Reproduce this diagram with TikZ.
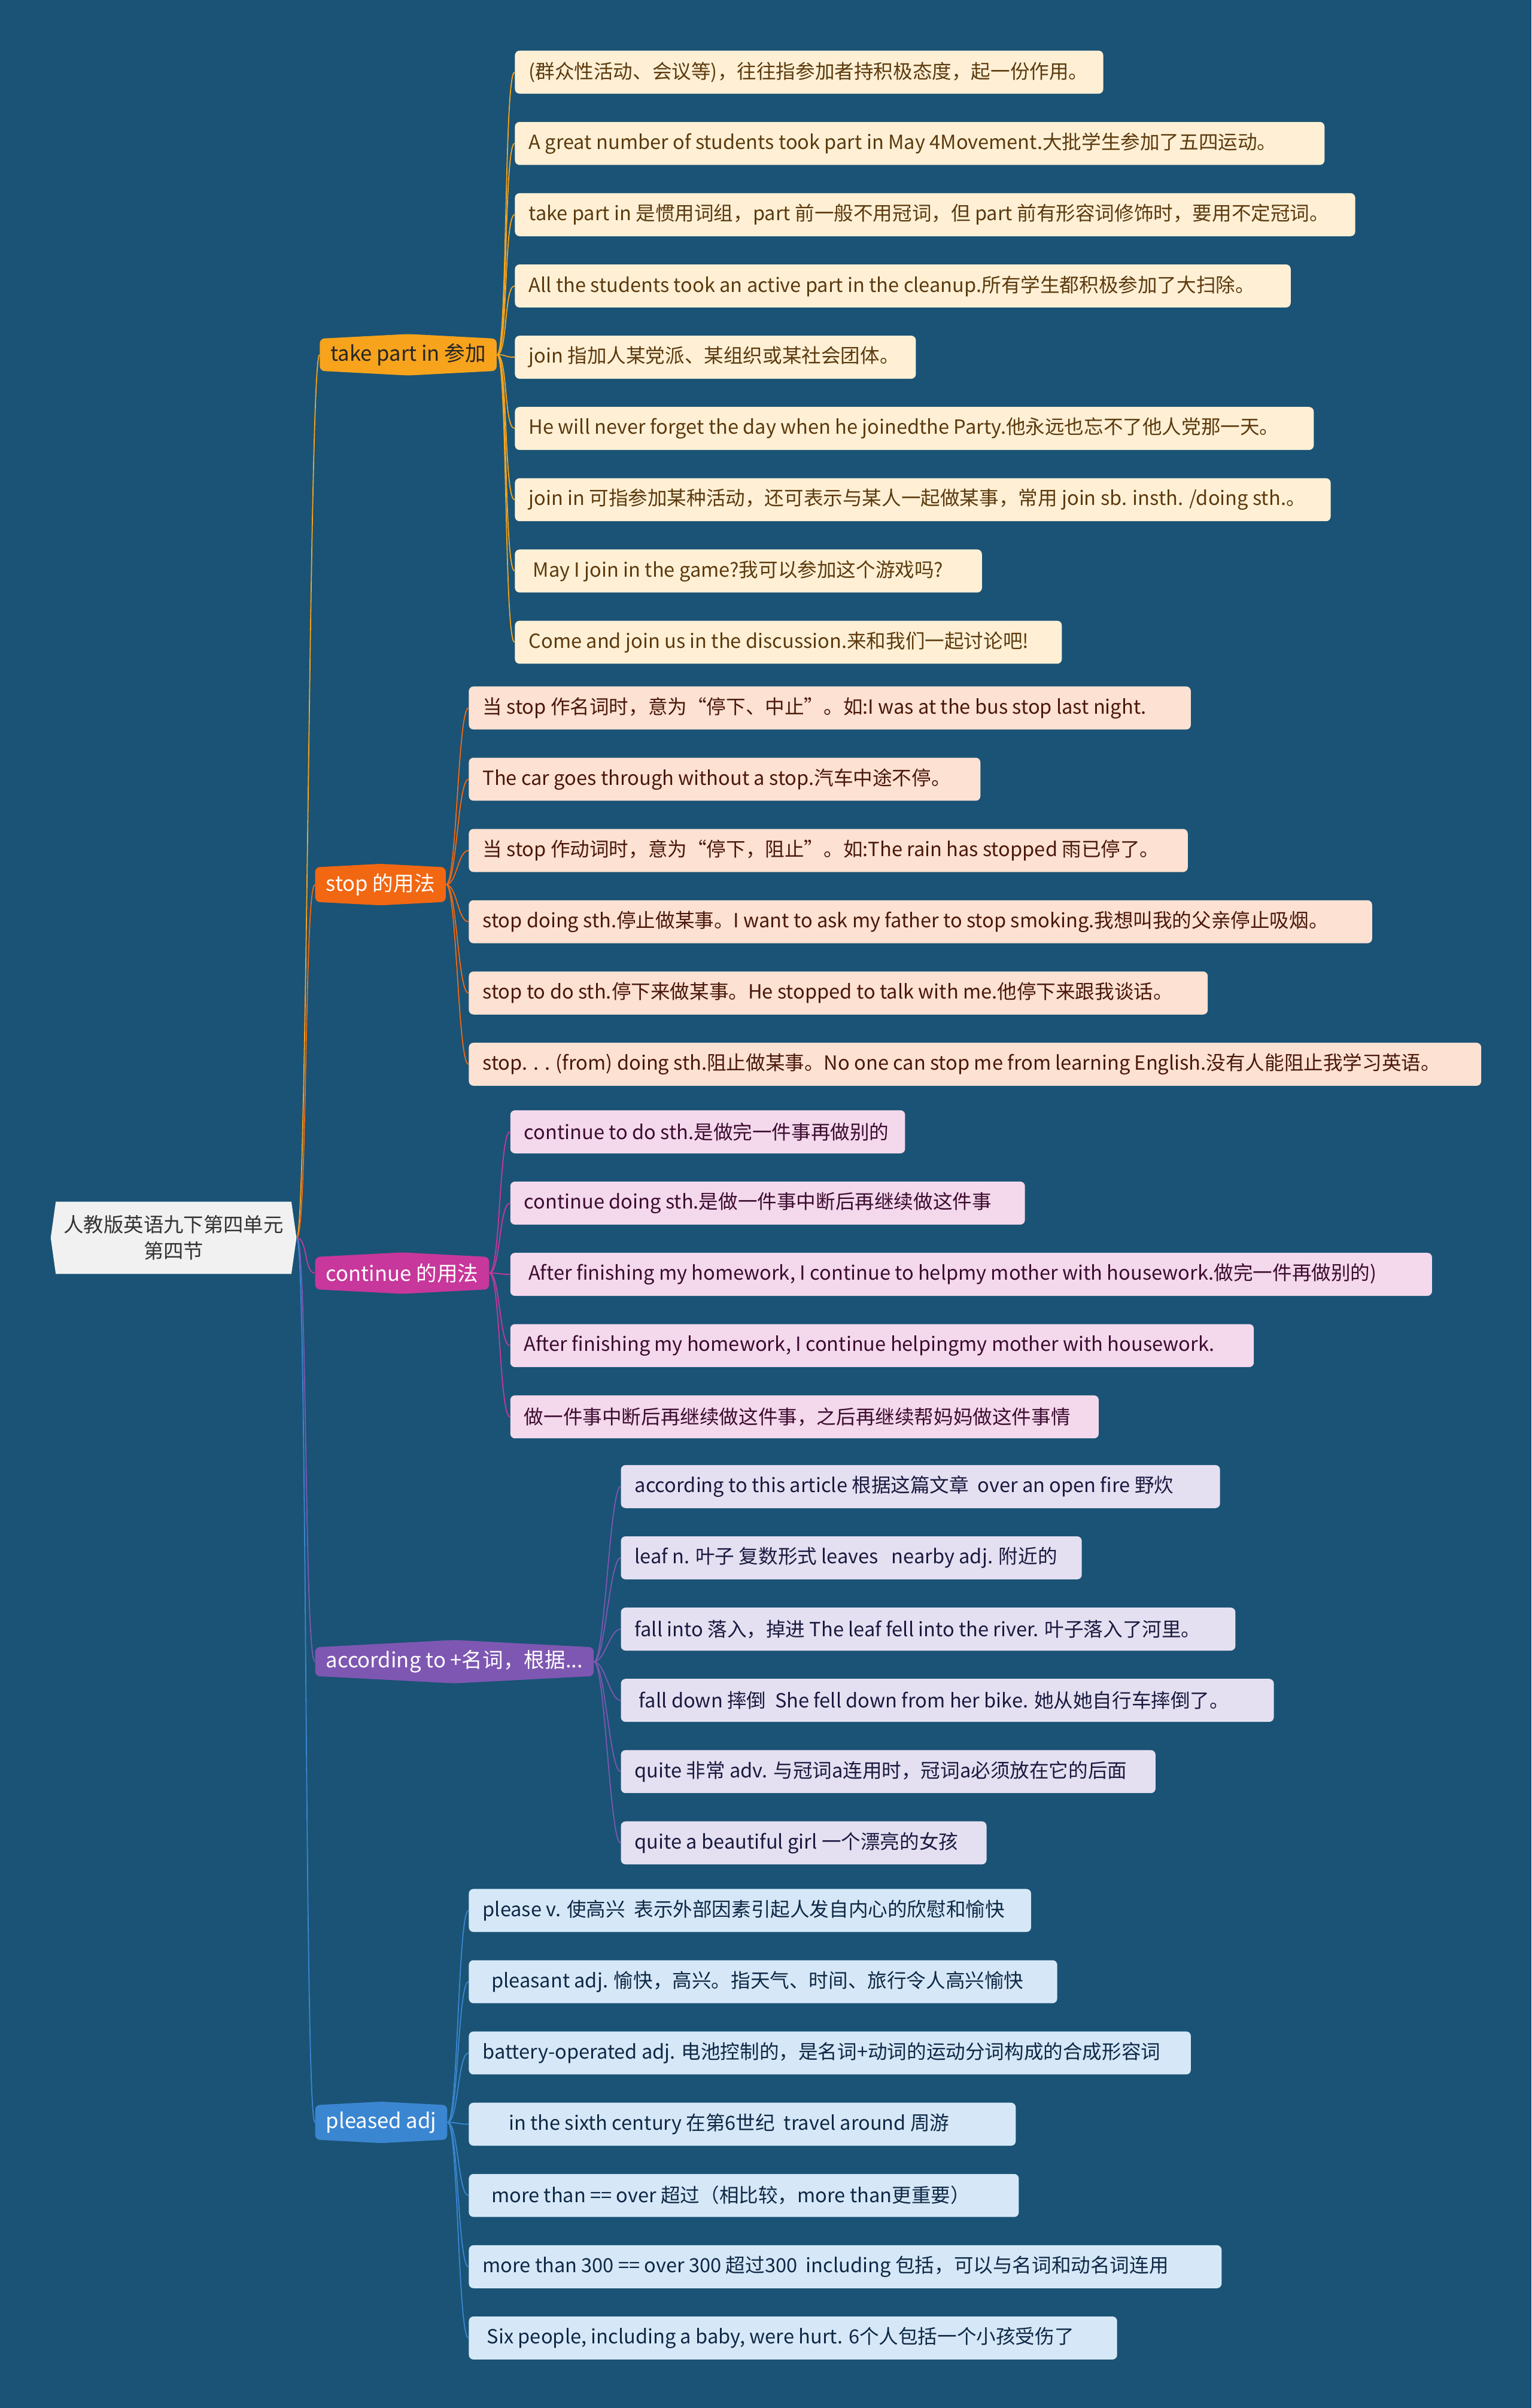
\documentclass[tikz,border=0pt]{standalone}
\usepackage{fontspec}
\setmainfont{Noto Sans CJK SC}
\usetikzlibrary{shapes.symbols,positioning,calc}
\definecolor{bg}{RGB}{26,83,117}
\definecolor{rootfill}{RGB}{241,241,241}
\definecolor{takeA}{RGB}{247,163,28}
\definecolor{takeL}{RGB}{255,240,213}
\definecolor{takeT}{RGB}{92,58,14}
\definecolor{stopA}{RGB}{242,103,18}
\definecolor{stopL}{RGB}{253,225,210}
\definecolor{stopT}{RGB}{74,24,10}
\definecolor{contA}{RGB}{200,55,155}
\definecolor{contL}{RGB}{244,216,236}
\definecolor{contT}{RGB}{60,12,48}
\definecolor{accA}{RGB}{126,87,178}
\definecolor{accL}{RGB}{229,224,241}
\definecolor{accT}{RGB}{26,26,64}
\definecolor{plsA}{RGB}{59,134,209}
\definecolor{plsL}{RGB}{214,232,247}
\definecolor{plsT}{RGB}{14,40,70}

\begin{document}
\begin{tikzpicture}[
        x=1pt,y=-1pt,
        font=\fontsize{12.7}{15}\selectfont,
        root/.style={signal,signal to=west and east,signal pointer angle=164,fill=rootfill,text=black!80,align=center,minimum width=160pt,minimum height=47pt,inner sep=1pt,font=\fontsize{13}{17}\selectfont},
        branch/.style={signal,signal to=north and south,signal pointer angle=174,rounded corners=3pt,minimum height=27pt,inner xsep=7pt,inner ysep=2pt,anchor=west,text=white,font=\fontsize{13.5}{16}\selectfont},
        leaf/.style={rounded corners=3pt,minimum height=28pt,inner xsep=9pt,inner ysep=0pt,align=flush left,anchor=west},
        takeleaf/.style={leaf,fill=takeL,text=takeT},
        stopleaf/.style={leaf,fill=stopL,text=stopT},
        contleaf/.style={leaf,fill=contL,text=contT},
        accleaf/.style={leaf,fill=accL,text=accT},
        plsleaf/.style={leaf,fill=plsL,text=plsT},
        link/.style={line width=0.7pt,to path={.. controls ($(\tikztostart)+(7,0)$) and ($(\tikztotarget)+(-7,0)$) .. (\tikztotarget)}},
        takelink/.style={link,draw=takeA},
        stoplink/.style={link,draw=stopA},
        contlink/.style={link,draw=contA},
        acclink/.style={link,draw=accA},
        plslink/.style={link,draw=plsA}
    ]
        % Background
        \fill[bg] (0,0) rectangle (997,1568);
        \useasboundingbox (0,0) rectangle (997,1568);

        % Root
        \node[root] (root) at (113,806) {人教版英语九下第四单元\\第四节};

        % take part in
        \node[branch,fill=takeA,text=black!85] (take) at (208,231) {take part in 参加};
        \node[takeleaf,text width=365pt] (take1) at (335,47) {(群众性活动、会议等)，往往指参加者持积极态度，起一份作用。};
        \node[takeleaf,text width=509pt,below=18pt of take1.south west,anchor=north west] (take2) {A great number of students took part in May 4Movement.大批学生参加了五四运动。};
        \node[takeleaf,text width=529pt,below=18pt of take2.south west,anchor=north west] (take3) {take part in 是惯用词组，part 前一般不用冠词，但 part 前有形容词修饰时，要用不定冠词。};
        \node[takeleaf,text width=487pt,below=18pt of take3.south west,anchor=north west] (take4) {All the students took an active part in the cleanup.所有学生都积极参加了大扫除。};
        \node[takeleaf,text width=243pt,below=18pt of take4.south west,anchor=north west] (take5) {join 指加人某党派、某组织或某社会团体。};
        \node[takeleaf,text width=502pt,below=18pt of take5.south west,anchor=north west] (take6) {He will never forget the day when he joinedthe Party.他永远也忘不了他人党那一天。};
        \node[takeleaf,text width=513pt,below=18pt of take6.south west,anchor=north west] (take7) {join in 可指参加某种活动，还可表示与某人一起做某事，常用 join sb. insth. /doing sth.。};
        \node[takeleaf,text width=286pt,below=18pt of take7.south west,anchor=north west] (take8) {\ May I join in the game?我可以参加这个游戏吗?};
        \node[takeleaf,text width=338pt,below=18pt of take8.south west,anchor=north west] (take9) {Come and join us in the discussion.来和我们一起讨论吧!};

        % stop
        \node[branch,fill=stopA] (stop) at (205,576) {stop 的用法};
        \node[stopleaf,text width=452pt] (stop1) at (305,461) {当 stop 作名词时，意为“停下、中止”。如:I was at the bus stop last night.};
        \node[stopleaf,text width=315pt,below=18pt of stop1.south west,anchor=north west] (stop2) {The car goes through without a stop.汽车中途不停。};
        \node[stopleaf,text width=450pt,below=18pt of stop2.south west,anchor=north west] (stop3) {当 stop 作动词时，意为“停下，阻止”。如:The rain has stopped 雨已停了。};
        \node[stopleaf,text width=570pt,below=18pt of stop3.south west,anchor=north west] (stop4) {stop doing sth.停止做某事。I want to ask my father to stop smoking.我想叫我的父亲停止吸烟。};
        \node[stopleaf,text width=463pt,below=18pt of stop4.south west,anchor=north west] (stop5) {stop to do sth.停下来做某事。He stopped to talk with me.他停下来跟我谈话。};
        \node[stopleaf,text width=641pt,below=18pt of stop5.south west,anchor=north west] (stop6) {stop. . . (from) doing sth.阻止做某事。No one can stop me from learning English.没有人能阻止我学习英语。};

        % continue
        \node[branch,fill=contA] (cont) at (205,829) {continue 的用法};
        \node[contleaf,text width=239pt] (cont1) at (332,737) {continue to do sth.是做完一件事再做别的};
        \node[contleaf,text width=317pt,below=18pt of cont1.south west,anchor=north west] (cont2) {continue doing sth.是做一件事中断后再继续做这件事};
        \node[contleaf,text width=582pt,below=18pt of cont2.south west,anchor=north west] (cont3) {\ After finishing my homework, I continue to helpmy mother with housework.做完一件再做别的)};
        \node[contleaf,text width=466pt,below=18pt of cont3.south west,anchor=north west] (cont4) {After finishing my homework, I continue helpingmy mother with housework.};
        \node[contleaf,text width=365pt,below=18pt of cont4.south west,anchor=north west] (cont5) {做一件事中断后再继续做这件事，之后再继续帮妈妈做这件事情};

        % according to
        \node[branch,fill=accA] (acc) at (205,1082) {according to +名词，根据...};
        \node[accleaf,text width=372pt] (acc1) at (404,968) {according to this article 根据这篇文章\ \ over an open fire 野炊};
        \node[accleaf,text width=282pt,below=18pt of acc1.south west,anchor=north west] (acc2) {leaf n. 叶子 复数形式 leaves\ \ \ nearby adj. 附近的};
        \node[accleaf,text width=382pt,below=18pt of acc2.south west,anchor=north west] (acc3) {fall into 落入，掉进 The leaf fell into the river. 叶子落入了河里。};
        \node[accleaf,text width=407pt,below=18pt of acc3.south west,anchor=north west] (acc4) {\ fall down 摔倒\ \ She fell down from her bike. 她从她自行车摔倒了。};
        \node[accleaf,text width=330pt,below=18pt of acc4.south west,anchor=north west] (acc5) {quite 非常 adv. 与冠词a连用时，冠词a必须放在它的后面};
        \node[accleaf,text width=220pt,below=18pt of acc5.south west,anchor=north west] (acc6) {quite a beautiful girl 一个漂亮的女孩};

        % pleased adj
        \node[branch,fill=plsA] (pls) at (205,1382) {pleased adj};
        \node[plsleaf,text width=348pt] (pls1) at (305,1244) {please v. 使高兴\ \ 表示外部因素引起人发自内心的欣慰和愉快};
        \node[plsleaf,text width=365pt,below=18pt of pls1.south west,anchor=north west] (pls2) {\ \ pleasant adj. 愉快，高兴。指天气、时间、旅行令人高兴愉快};
        \node[plsleaf,text width=452pt,below=18pt of pls2.south west,anchor=north west] (pls3) {battery-operated adj. 电池控制的，是名词+动词的运动分词构成的合成形容词};
        \node[plsleaf,text width=338pt,below=18pt of pls3.south west,anchor=north west] (pls4) {\ \ \ \ \ \ in the sixth century 在第6世纪\ \ travel around 周游};
        \node[plsleaf,text width=340pt,below=18pt of pls4.south west,anchor=north west] (pls5) {\ \ more than == over 超过（相比较，more than更重要）};
        \node[plsleaf,text width=472pt,below=18pt of pls5.south west,anchor=north west] (pls6) {more than 300 == over 300 超过300\ \ including 包括，可以与名词和动名词连用};
        \node[plsleaf,text width=404pt,below=18pt of pls6.south west,anchor=north west] (pls7) {\ Six people, including a baby, were hurt. 6个人包括一个小孩受伤了};

        % Root links
        \draw[takelink] (root.east) to (take.west);
        \draw[stoplink] (root.east) to (stop.west);
        \draw[contlink] (root.east) to (cont.west);
        \draw[acclink] (root.east) to (acc.west);
        \draw[plslink] (root.east) to (pls.west);

        % take part in links
        \draw[takelink] (take.east) to (take1.west);
        \draw[takelink] (take.east) to (take2.west);
        \draw[takelink] (take.east) to (take3.west);
        \draw[takelink] (take.east) to (take4.west);
        \draw[takelink] (take.east) to (take5.west);
        \draw[takelink] (take.east) to (take6.west);
        \draw[takelink] (take.east) to (take7.west);
        \draw[takelink] (take.east) to (take8.west);
        \draw[takelink] (take.east) to (take9.west);

        % stop links
        \draw[stoplink] (stop.east) to (stop1.west);
        \draw[stoplink] (stop.east) to (stop2.west);
        \draw[stoplink] (stop.east) to (stop3.west);
        \draw[stoplink] (stop.east) to (stop4.west);
        \draw[stoplink] (stop.east) to (stop5.west);
        \draw[stoplink] (stop.east) to (stop6.west);

        % continue links
        \draw[contlink] (cont.east) to (cont1.west);
        \draw[contlink] (cont.east) to (cont2.west);
        \draw[contlink] (cont.east) to (cont3.west);
        \draw[contlink] (cont.east) to (cont4.west);
        \draw[contlink] (cont.east) to (cont5.west);

        % according to links
        \draw[acclink] (acc.east) to (acc1.west);
        \draw[acclink] (acc.east) to (acc2.west);
        \draw[acclink] (acc.east) to (acc3.west);
        \draw[acclink] (acc.east) to (acc4.west);
        \draw[acclink] (acc.east) to (acc5.west);
        \draw[acclink] (acc.east) to (acc6.west);

        % pleased adj links
        \draw[plslink] (pls.east) to (pls1.west);
        \draw[plslink] (pls.east) to (pls2.west);
        \draw[plslink] (pls.east) to (pls3.west);
        \draw[plslink] (pls.east) to (pls4.west);
        \draw[plslink] (pls.east) to (pls5.west);
        \draw[plslink] (pls.east) to (pls6.west);
        \draw[plslink] (pls.east) to (pls7.west);
    \end{tikzpicture}
\end{document}
